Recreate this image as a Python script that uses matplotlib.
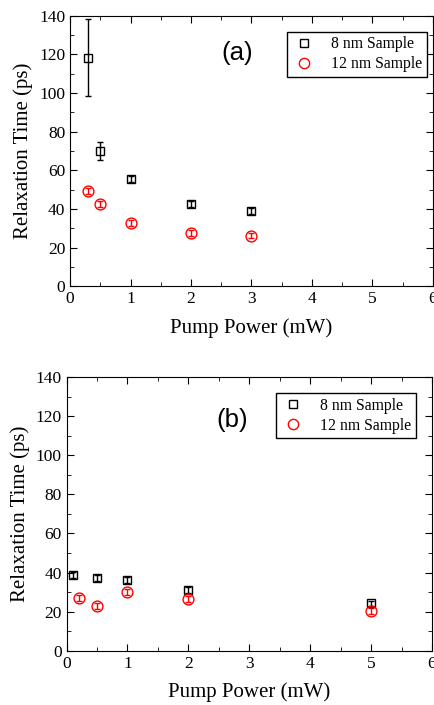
import numpy as np
import matplotlib
matplotlib.use("Agg")
import matplotlib.pyplot as plt
from matplotlib.ticker import MultipleLocator

plt.rcParams["font.family"] = ["Liberation Serif", "DejaVu Serif"]

# panel (a)
a_x8 = [0.3, 0.5, 1, 2, 3]
a_y8 = [118.2, 70.0, 55.5, 42.5, 39.0]
a_e8 = [20.0, 4.5, 1.5, 1.5, 1.5]
a_x12 = [0.3, 0.5, 1, 2, 3]
a_y12 = [49.3, 42.4, 32.7, 27.5, 26.2]
a_e12 = [1.5, 1.5, 1.5, 1.5, 1.5]

# panel (b)
b_x8 = [0.1, 0.5, 1, 2, 5]
b_y8 = [38.8, 37.3, 36.0, 31.1, 24.2]
b_e8 = [1.5, 1.5, 1.5, 1.5, 1.5]
b_x12 = [0.2, 0.5, 1, 2, 5]
b_y12 = [26.9, 22.8, 30.0, 26.3, 20.5]
b_e12 = [1.5, 1.5, 1.5, 1.5, 1.5]

xticks = [0, 1, 2, 3, 4, 5, 6]
yticks = [0, 20, 40, 60, 80, 100, 120, 140]


def draw_panel(ax, x8, y8, e8, x12, y12, e12, tag, tag_xy, leg_anchor):
    ax.errorbar(x8, y8, yerr=e8, fmt="s", ms=6.3, mfc="none", mec="k", mew=1.0,
                ecolor="k", elinewidth=1.0, capsize=2.5, label="8 nm Sample")
    ax.errorbar(x12, y12, yerr=e12, fmt="o", ms=7.8, mfc="none", mec="red", mew=1.0,
                ecolor="red", elinewidth=1.0, capsize=2.5, label="12 nm Sample")
    ax.set_xlim(0, 6)
    ax.set_ylim(0, 140)
    ax.set_xticks(xticks)
    ax.set_yticks(yticks)
    ax.xaxis.set_minor_locator(MultipleLocator(0.5))
    ax.yaxis.set_minor_locator(MultipleLocator(10))
    ax.tick_params(which="both", direction="in", top=True, right=True, labelsize=12.5)
    ax.tick_params(which="major", length=5)
    ax.tick_params(which="minor", length=3)
    ax.set_xlabel("Pump Power (mW)", fontsize=15, labelpad=8)
    ax.set_ylabel("Relaxation Time (ps)", fontsize=15, labelpad=4)
    handles, labels = ax.get_legend_handles_labels()
    handles = [h[0] for h in handles]
    leg = ax.legend(handles, labels, loc="upper right", fontsize=11.3,
                    frameon=True, fancybox=False, edgecolor="k", framealpha=1,
                    borderpad=0.3, handletextpad=0.9, labelspacing=0.25,
                    handlelength=1.6, borderaxespad=0, markerscale=0.95,
                    bbox_to_anchor=leg_anchor)
    leg.get_frame().set_linewidth(1.0)
    ax.text(tag_xy[0], tag_xy[1], tag, fontsize=18.5, ha="center", va="center",
            family=["Liberation Sans", "DejaVu Sans"])


fig = plt.figure(figsize=(4.35, 7.05), dpi=100)
ax1 = fig.add_axes([0.161, 0.594, 0.834, 0.384])
ax2 = fig.add_axes([0.153, 0.077, 0.840, 0.388])

draw_panel(ax1, a_x8, a_y8, a_e8, a_x12, a_y12, a_e12, "(a)", (2.76, 120.5), (0.983, 0.94))
draw_panel(ax2, b_x8, b_y8, b_e8, b_x12, b_y12, b_e12, "(b)", (2.72, 118.0), (0.956, 0.942))

fig.savefig("out.png", dpi=100)
